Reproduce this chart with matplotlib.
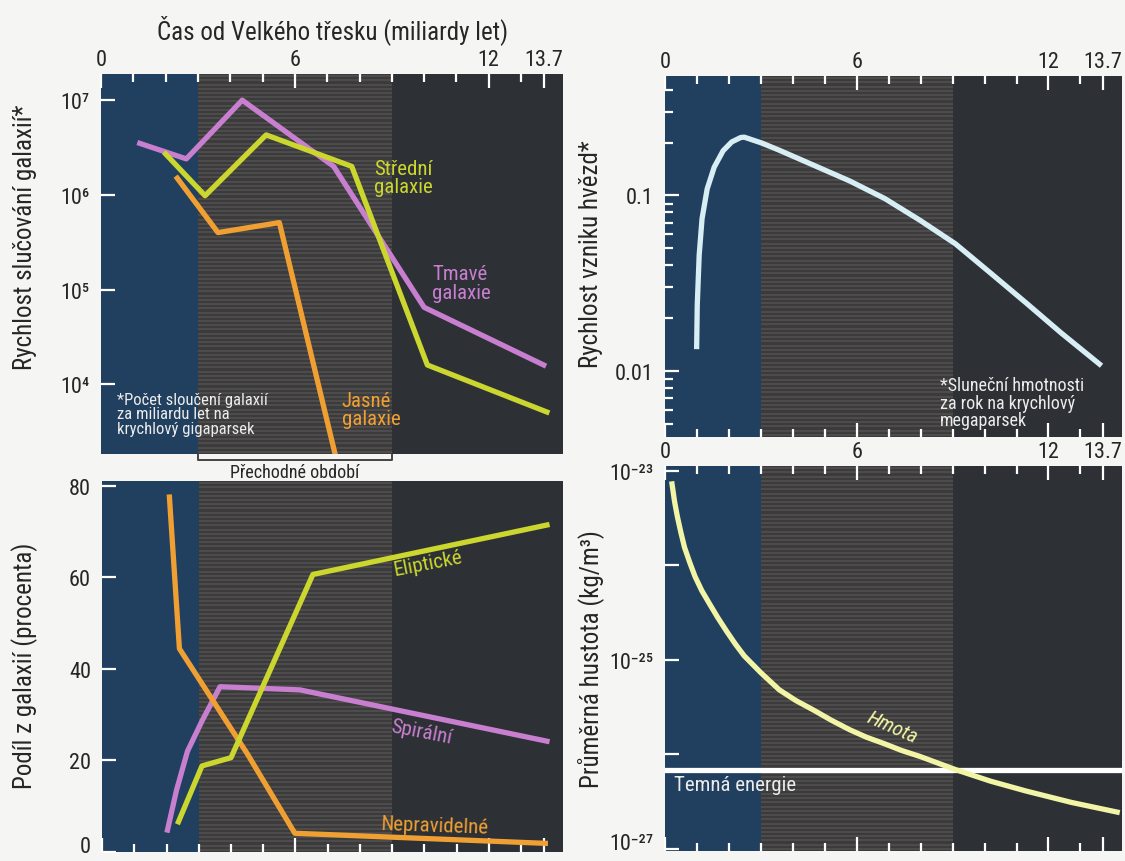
import matplotlib
matplotlib.use('Agg')
import matplotlib.pyplot as plt
import numpy as np
from matplotlib import font_manager
from matplotlib.ticker import FixedLocator, NullFormatter, FixedFormatter, LogLocator

names = {f.name for f in font_manager.fontManager.ttflist}
FONT = 'DejaVu Sans'
for cand in ['Liberation Sans Narrow', 'Roboto Condensed', 'Open Sans Condensed', 'DejaVu Sans']:
    if cand in names:
        FONT = cand
        break
plt.rcParams['font.family'] = [FONT, 'DejaVu Sans']

# ---------------- data ----------------
# Top-left: galaxy merger rate (mergers per Gyr per cubic gigaparsec)
t_dark = [1.2, 2.64, 4.37, 7.2, 10.0, 13.7]
rate_dark = [3.5e6, 2.4e6, 1.0e7, 2.0e6, 6.5e4, 1.6e4]
t_mid = [2.0, 3.22, 5.11, 7.76, 10.1, 13.8]
rate_mid = [2.7e6, 9.8e5, 4.3e6, 2.0e6, 1.6e4, 5.1e3]
t_bright = [2.36, 3.62, 5.52, 7.25]
rate_bright = [1.5e6, 4.0e5, 5.1e5, 1.8e3]

# Top-right: star formation rate
t_sfr = [0.99, 1.01, 1.07, 1.16, 1.32, 1.54, 1.82, 2.09, 2.37, 2.48, 3.03, 3.58,
         4.68, 5.78, 6.88, 7.98, 9.09, 10.19, 11.29, 12.39, 13.66]
sfr = [0.0133, 0.0238, 0.0457, 0.0738, 0.109, 0.145, 0.18, 0.202, 0.214, 0.215,
       0.199, 0.181, 0.148, 0.121, 0.096, 0.0722, 0.053, 0.0361, 0.0245, 0.0165,
       0.0107]

# Bottom-left: share of galaxy types (percent)
t_ell = [2.37, 3.1, 4.0, 6.54, 13.8]
ell = [6.6, 18.8, 20.6, 60.6, 71.4]
t_spi = [2.03, 2.31, 2.65, 3.1, 3.66, 6.14, 13.8]
spi = [4.8, 13.5, 22.0, 28.6, 36.1, 35.4, 24.2]
t_irr = [2.09, 2.4, 4.51, 5.98, 13.75]
irr = [77.5, 44.4, 21.4, 4.1, 1.9]

# Bottom-right: mean density (kg/m^3)
t_rho = [0.22, 0.3, 0.39, 0.5, 0.61, 0.77, 0.94, 1.15, 1.38, 1.65, 1.93, 2.2, 2.48,
         3.0, 3.58, 4.1, 4.68, 5.2, 5.78, 6.3, 6.88, 7.4, 7.98, 9.09, 10.19, 11.29,
         12.72, 14.15]
rho_matter = [7.24e-24, 4.7e-24, 3.24e-24, 2.2e-24, 1.55e-24, 1.08e-24, 7.6e-25,
              5.4e-25, 3.98e-25, 2.8e-25, 2.0e-25, 1.47e-25, 1.10e-25, 7.3e-26,
              4.8e-26, 3.7e-26, 2.9e-26, 2.3e-26, 1.82e-26, 1.52e-26, 1.29e-26,
              1.1e-26, 9.5e-27, 6.9e-27, 5.2e-27, 4.1e-27, 3.1e-27, 2.45e-27]
rho_dark_energy = 6.9e-27

# eras (Gyr)
era_early = (0, 3)
era_transition = (3, 9)

top_ticks = [0, 6, 12, 13.7]
top_ticklabels = ['0', '6', '12', '13.7']
minor_ticks = list(range(1, 14))

# ---------------- style ----------------
BG = '#f5f5f3'
C_BLUE = '#21405f'
C_MID = '#3c3b3b'
C_STRIPE = '#535150'
C_RIGHT = '#2d3136'
C_PURPLE = '#c87fd0'
C_GREEN = '#cbd62e'
C_ORANGE = '#f0a032'
C_SFR = '#d6eef4'
C_MATTER = '#f2f4a6'
TXT = '#262626'
XLIM = (0, 14.3)
LW = 3.8

fig = plt.figure(figsize=(11.25, 8.62), dpi=100, facecolor=BG)

ax_tl = fig.add_axes([0.0898, 0.4722, 0.4107, 0.4408])
ax_tr = fig.add_axes([0.5911, 0.4919, 0.4062, 0.4188])
ax_bl = fig.add_axes([0.0907, 0.0104, 0.4098, 0.4304])
ax_br = fig.add_axes([0.5911, 0.0116, 0.4062, 0.4466])


def background(ax, height_px):
    ax.set_facecolor(C_RIGHT)
    ax.axvspan(*era_early, color=C_BLUE, zorder=0, lw=0)
    ax.axvspan(*era_transition, color=C_MID, zorder=0, lw=0)
    n = int(height_px / 4.2)
    ys = (np.arange(n) + 0.5) / n
    ax.hlines(ys, era_transition[0], era_transition[1], colors=C_STRIPE,
              linewidth=1.1, transform=ax.get_xaxis_transform(), zorder=0.5)
    for s in ax.spines.values():
        s.set_visible(False)
    ax.set_xlim(*XLIM)


def xticks(ax, top, bottom, labels_top):
    ax.xaxis.set_major_locator(FixedLocator(top_ticks))
    ax.xaxis.set_minor_locator(FixedLocator(minor_ticks))
    if labels_top:
        ax.xaxis.set_major_formatter(FixedFormatter(top_ticklabels))
    ax.xaxis.set_minor_formatter(NullFormatter())
    ax.tick_params(axis='x', which='both', direction='in', colors='white',
                   top=top, bottom=bottom, labeltop=labels_top, labelbottom=False,
                   width=1.6)
    ax.tick_params(axis='x', which='major', length=10, labelsize=16,
                   labelcolor=TXT, pad=3)
    ax.tick_params(axis='x', which='minor', length=6)


def yticks(ax):
    ax.tick_params(axis='y', which='both', direction='in', colors='white',
                   labelcolor=TXT, width=1.6, labelsize=16, pad=8)
    ax.tick_params(axis='y', which='major', length=10)
    ax.tick_params(axis='y', which='minor', length=6)


# ---------------- top-left ----------------
ax = ax_tl
background(ax, 380)
ax.set_yscale('log')
ax.set_ylim(1.84e3, 1.89e7)
ax.plot(t_dark, rate_dark, color=C_PURPLE, lw=LW, zorder=3)
ax.plot(t_bright, rate_bright, color=C_ORANGE, lw=LW, zorder=3)
ax.plot(t_mid, rate_mid, color=C_GREEN, lw=LW, zorder=4)
xticks(ax, top=True, bottom=False, labels_top=True)
ax.yaxis.set_major_locator(FixedLocator([1e4, 1e5, 1e6, 1e7]))
ax.yaxis.set_major_formatter(FixedFormatter(['10⁴', '10⁵', '10⁶', '10⁷']))
ax.yaxis.set_minor_locator(FixedLocator([]))
yticks(ax)
ax.text(8.45, 2.4e6, 'Střední\ngalaxie', color=C_GREEN, fontsize=15, va='top',
        ha='left', linespacing=0.95, zorder=5)
ax.text(10.25, 1.85e5, 'Tmavé\ngalaxie', color=C_PURPLE, fontsize=15, va='top',
        ha='left', linespacing=0.95, zorder=5)
ax.text(7.45, 8.5e3, 'Jasné\ngalaxie', color=C_ORANGE, fontsize=15, va='top',
        ha='left', linespacing=0.95, zorder=5)
ax.text(0.5, 8.3e3, '*Počet sloučení galaxií\nza miliardu let na\nkrychlový gigaparsek',
        color='#ececec', fontsize=12, va='top', ha='left', linespacing=0.95, zorder=5)
# transition bracket
tr = ax.get_xaxis_transform()
ax.plot([era_transition[0], era_transition[0], era_transition[1], era_transition[1]],
        [-0.002, -0.015, -0.015, -0.002], color='#444444', lw=1.4,
        transform=tr, clip_on=False)
ax.text(np.mean(era_transition), -0.024, 'Přechodné období', transform=tr,
        ha='center', va='top', fontsize=13, color=TXT)

# ---------------- top-right ----------------
ax = ax_tr
background(ax, 361)
ax.set_yscale('log')
ax.set_ylim(0.0042, 0.48)
ax.plot(t_sfr, sfr, color=C_SFR, lw=LW, zorder=3, solid_capstyle='butt')
xticks(ax, top=True, bottom=True, labels_top=True)
ax.yaxis.set_major_locator(FixedLocator([0.01, 0.1]))
ax.yaxis.set_major_formatter(FixedFormatter(['0.01', '0.1']))
ax.yaxis.set_minor_locator(LogLocator(base=10, subs=np.arange(2, 10)))
ax.yaxis.set_minor_formatter(NullFormatter())
yticks(ax)
ax.text(8.6, 0.0093, '*Sluneční hmotnosti\nza rok na krychlový\nmegaparsek',
        color='#ececec', fontsize=13, va='top', ha='left', linespacing=0.95, zorder=5)

# ---------------- bottom-left ----------------
ax = ax_bl
background(ax, 371)
ax.set_ylim(0, 81)
ax.plot(t_spi, spi, color=C_PURPLE, lw=LW, zorder=3)
ax.plot(t_irr, irr, color=C_ORANGE, lw=LW, zorder=3)
ax.plot(t_ell, ell, color=C_GREEN, lw=LW, zorder=4)
xticks(ax, top=False, bottom=True, labels_top=False)
ax.yaxis.set_major_locator(FixedLocator([0, 20, 40, 60, 80]))
ax.yaxis.set_major_formatter(FixedFormatter(['0', '20', '40', '60', '80']))
yticks(ax)
ax.get_yticklabels()[0].set_verticalalignment('baseline')
ax.text(10.1, 63.0, 'Eliptické', color=C_GREEN, fontsize=15, ha='center',
        va='center', rotation=11, zorder=5)
ax.text(9.9, 26.4, 'Spirální', color=C_PURPLE, fontsize=15, ha='center',
        va='center', rotation=-11, zorder=5)
ax.text(10.3, 5.8, 'Nepravidelné', color=C_ORANGE, fontsize=15, ha='center',
        va='center', rotation=-2, zorder=5)

# ---------------- bottom-right ----------------
ax = ax_br
background(ax, 385)
ax.set_yscale('log')
ax.set_ylim(9.5e-28, 1.12e-23)
ax.axhline(rho_dark_energy, color='white', lw=LW, zorder=3)
ax.plot(t_rho, rho_matter, color=C_MATTER, lw=LW, zorder=4)
xticks(ax, top=True, bottom=True, labels_top=True)
ax.yaxis.set_major_locator(FixedLocator([1e-27, 1e-26, 1e-25, 1e-24, 1e-23]))
ax.yaxis.set_major_formatter(FixedFormatter(['10⁻²⁷', '', '10⁻²⁵', '', '10⁻²³']))
ax.yaxis.set_minor_locator(FixedLocator([]))
yticks(ax)
ax.get_yticklabels()[0].set_verticalalignment('baseline')
ax.text(7.1, 1.95e-26, 'Hmota', color=C_MATTER, fontsize=15, ha='center',
        va='center', rotation=-24, style='italic', zorder=5)
ax.text(0.28, 4.8e-27, 'Temná energie', color='#ececec', fontsize=15, ha='left',
        va='center', zorder=5)

# ---------------- labels ----------------
fig.text(0.296, 0.965, 'Čas od Velkého třesku (miliardy let)', ha='center',
         va='center', fontsize=18, color=TXT)
fig.text(0.022, 0.725, 'Rychlost slučování galaxií*', rotation=90, ha='center',
         va='center', fontsize=18, color=TXT)
fig.text(0.022, 0.228, 'Podíl z galaxií (procenta)', rotation=90, ha='center',
         va='center', fontsize=18, color=TXT)
fig.text(0.525, 0.705, 'Rychlost vzniku hvězd*', rotation=90, ha='center',
         va='center', fontsize=18, color=TXT)
fig.text(0.525, 0.235, 'Průměrná hustota (kg/m³)', rotation=90, ha='center',
         va='center', fontsize=18, color=TXT)

fig.savefig('out.png', dpi=100, facecolor=BG)
